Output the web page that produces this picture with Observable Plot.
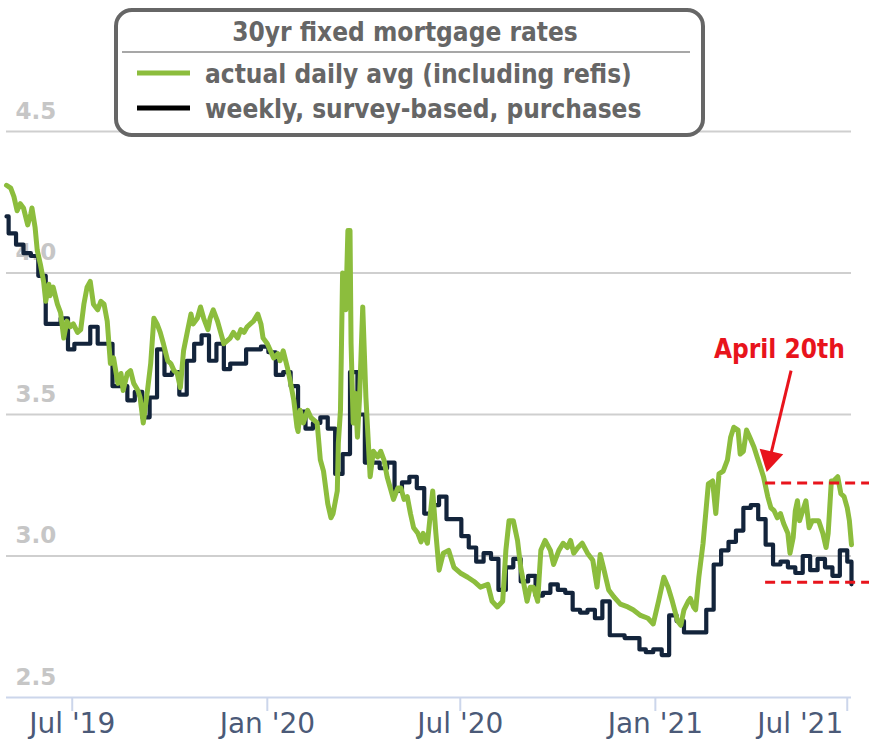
<!DOCTYPE html>
<html><head><meta charset="utf-8">
<script src="https://cdn.jsdelivr.net/npm/d3@7"></script>
<script src="https://cdn.jsdelivr.net/npm/@observablehq/plot@0.6"></script>
<style>
body{margin:0;background:#fff;}
#wrap{position:relative;width:869px;height:748px;overflow:hidden;}
#legend{position:absolute;left:0;top:0;}
.cond{font-family:'DejaVu Sans Condensed','DejaVu Sans',sans-serif;font-stretch:condensed;font-weight:bold;}
</style></head><body><div id="wrap"></div>
<script>
// ---- data ----
const greenDates = ["2019-04-30","2019-05-04","2019-05-07","2019-05-10","2019-05-13","2019-05-16","2019-05-20","2019-05-23","2019-05-24","2019-05-27","2019-05-29","2019-06-01","2019-06-04","2019-06-06","2019-06-09","2019-06-10","2019-06-13","2019-06-17","2019-06-20","2019-06-23","2019-06-26","2019-06-29","2019-07-02","2019-07-06","2019-07-09","2019-07-12","2019-07-15","2019-07-18","2019-07-21","2019-07-25","2019-07-28","2019-07-31","2019-08-03","2019-08-06","2019-08-09","2019-08-13","2019-08-16","2019-08-18","2019-08-22","2019-08-25","2019-08-28","2019-09-01","2019-09-03","2019-09-06","2019-09-10","2019-09-13","2019-09-16","2019-09-19","2019-09-22","2019-09-25","2019-09-29","2019-10-02","2019-10-05","2019-10-08","2019-10-11","2019-10-14","2019-10-18","2019-10-21","2019-10-23","2019-10-27","2019-10-30","2019-11-02","2019-11-06","2019-11-08","2019-11-11","2019-11-15","2019-11-18","2019-11-21","2019-11-24","2019-11-27","2019-11-30","2019-12-04","2019-12-07","2019-12-10","2019-12-13","2019-12-16","2019-12-19","2019-12-23","2019-12-26","2019-12-28","2020-01-01","2020-01-04","2020-01-07","2020-01-11","2020-01-13","2020-01-16","2020-01-20","2020-01-23","2020-01-26","2020-01-29","2020-01-30","2020-02-01","2020-02-04","2020-02-08","2020-02-11","2020-02-14","2020-02-17","2020-02-20","2020-02-23","2020-02-27","2020-03-01","2020-03-03","2020-03-07","2020-03-08","2020-03-10","2020-03-12","2020-03-15","2020-03-17","2020-03-19","2020-03-20","2020-03-22","2020-03-24","2020-03-26","2020-03-28","2020-03-31","2020-04-03","2020-04-05","2020-04-07","2020-04-10","2020-04-14","2020-04-17","2020-04-20","2020-04-23","2020-04-26","2020-04-29","2020-05-03","2020-05-06","2020-05-09","2020-05-12","2020-05-15","2020-05-18","2020-05-22","2020-05-25","2020-05-27","2020-05-31","2020-06-05","2020-06-08","2020-06-11","2020-06-15","2020-06-20","2020-06-25","2020-07-01","2020-07-08","2020-07-14","2020-07-20","2020-07-27","2020-07-31","2020-08-05","2020-08-10","2020-08-13","2020-08-16","2020-08-20","2020-08-24","2020-08-27","2020-08-30","2020-09-02","2020-09-05","2020-09-08","2020-09-12","2020-09-15","2020-09-19","2020-09-24","2020-09-27","2020-10-02","2020-10-06","2020-10-10","2020-10-13","2020-10-16","2020-10-20","2020-10-24","2020-10-29","2020-11-03","2020-11-07","2020-11-10","2020-11-13","2020-11-18","2020-11-23","2020-11-29","2020-12-06","2020-12-11","2020-12-18","2020-12-25","2020-12-30","2021-01-04","2021-01-09","2021-01-13","2021-01-17","2021-01-22","2021-01-25","2021-01-28","2021-02-01","2021-02-03","2021-02-06","2021-02-08","2021-02-11","2021-02-15","2021-02-20","2021-02-24","2021-02-27","2021-03-02","2021-03-06","2021-03-10","2021-03-13","2021-03-16","2021-03-20","2021-03-22","2021-03-25","2021-03-28","2021-03-31","2021-04-04","2021-04-07","2021-04-10","2021-04-13","2021-04-17","2021-04-20","2021-04-23","2021-04-26","2021-04-29","2021-05-02","2021-05-06","2021-05-08","2021-05-11","2021-05-13","2021-05-15","2021-05-17","2021-05-20","2021-05-23","2021-05-26","2021-05-29","2021-06-01","2021-06-04","2021-06-08","2021-06-11","2021-06-13","2021-06-16","2021-06-18","2021-06-22","2021-06-25","2021-06-28","2021-07-01","2021-07-03","2021-07-05"];
const greenRates = [4.31,4.30,4.27,4.22,4.245,4.23,4.17,4.21,4.23,4.16,4.08,4.03,3.97,3.90,3.96,3.92,3.95,3.89,3.86,3.77,3.83,3.81,3.82,3.79,3.80,3.89,3.95,3.97,3.89,3.87,3.90,3.89,3.83,3.68,3.70,3.61,3.645,3.585,3.645,3.655,3.61,3.585,3.56,3.47,3.585,3.68,3.84,3.82,3.79,3.75,3.69,3.68,3.655,3.645,3.595,3.725,3.80,3.855,3.82,3.84,3.88,3.84,3.80,3.84,3.87,3.83,3.79,3.75,3.76,3.77,3.79,3.77,3.80,3.79,3.81,3.82,3.83,3.855,3.82,3.77,3.75,3.725,3.70,3.715,3.69,3.725,3.665,3.61,3.55,3.455,3.44,3.515,3.47,3.515,3.49,3.48,3.47,3.34,3.30,3.185,3.135,3.15,3.23,3.40,3.515,4.00,3.87,4.15,4.15,3.75,3.47,3.575,3.42,3.56,3.88,3.56,3.42,3.28,3.37,3.35,3.37,3.34,3.28,3.24,3.20,3.24,3.24,3.20,3.21,3.15,3.10,3.08,3.05,3.08,3.045,3.23,3.08,2.95,3.01,3.02,2.96,2.94,2.925,2.91,2.89,2.90,2.84,2.82,2.84,3.02,3.125,3.125,3.055,2.96,2.90,2.84,2.89,2.89,2.84,3.02,3.055,3.02,2.97,3.02,3.045,3.03,3.055,3.01,3.03,3.045,3.01,2.985,2.89,3.005,2.96,2.88,2.855,2.83,2.82,2.81,2.79,2.78,2.76,2.84,2.925,2.89,2.84,2.77,2.755,2.81,2.84,2.85,2.82,2.81,2.925,3.045,3.255,3.265,3.15,3.29,3.30,3.34,3.42,3.455,3.445,3.36,3.37,3.445,3.42,3.385,3.35,3.315,3.28,3.21,3.17,3.16,3.135,3.15,3.115,3.08,3.01,3.065,3.16,3.195,3.125,3.16,3.195,3.10,3.125,3.125,3.125,3.08,3.03,3.08,3.265,3.265,3.28,3.22,3.21,3.17,3.125,3.04];

const weeklyDates = ["2019-04-30","2019-05-02","2019-05-09","2019-05-16","2019-05-23","2019-05-30","2019-06-06","2019-06-13","2019-06-20","2019-06-27","2019-07-03","2019-07-11","2019-07-18","2019-07-25","2019-08-01","2019-08-08","2019-08-15","2019-08-22","2019-08-29","2019-09-05","2019-09-12","2019-09-19","2019-09-26","2019-10-03","2019-10-10","2019-10-17","2019-10-24","2019-10-31","2019-11-07","2019-11-14","2019-11-21","2019-11-27","2019-12-05","2019-12-12","2019-12-19","2019-12-26","2020-01-02","2020-01-09","2020-01-16","2020-01-23","2020-01-30","2020-02-06","2020-02-13","2020-02-20","2020-02-27","2020-03-05","2020-03-12","2020-03-19","2020-03-26","2020-04-02","2020-04-09","2020-04-16","2020-04-23","2020-04-30","2020-05-07","2020-05-14","2020-05-21","2020-05-28","2020-06-04","2020-06-11","2020-06-18","2020-06-25","2020-07-02","2020-07-09","2020-07-16","2020-07-23","2020-07-30","2020-08-06","2020-08-13","2020-08-20","2020-08-27","2020-09-03","2020-09-10","2020-09-17","2020-09-24","2020-10-01","2020-10-08","2020-10-15","2020-10-22","2020-10-29","2020-11-05","2020-11-12","2020-11-19","2020-11-25","2020-12-03","2020-12-10","2020-12-17","2020-12-23","2020-12-30","2021-01-07","2021-01-14","2021-01-21","2021-01-28","2021-02-04","2021-02-11","2021-02-18","2021-02-25","2021-03-04","2021-03-11","2021-03-18","2021-03-25","2021-04-01","2021-04-08","2021-04-15","2021-04-22","2021-04-29","2021-05-06","2021-05-13","2021-05-20","2021-05-27","2021-06-03","2021-06-10","2021-06-17","2021-06-24","2021-07-01","2021-07-05"];
const weeklyRates = [4.20,4.14,4.10,4.07,4.06,3.99,3.82,3.82,3.84,3.73,3.75,3.75,3.81,3.75,3.75,3.60,3.60,3.55,3.58,3.49,3.56,3.73,3.64,3.65,3.57,3.69,3.75,3.78,3.69,3.75,3.66,3.68,3.68,3.73,3.73,3.74,3.72,3.64,3.65,3.60,3.51,3.45,3.47,3.49,3.45,3.29,3.36,3.65,3.50,3.33,3.33,3.31,3.33,3.23,3.26,3.28,3.24,3.15,3.18,3.21,3.13,3.13,3.07,3.03,2.98,3.01,2.99,2.88,2.96,2.99,2.91,2.93,2.86,2.87,2.90,2.88,2.87,2.81,2.80,2.81,2.78,2.84,2.72,2.72,2.71,2.71,2.67,2.66,2.67,2.65,2.79,2.77,2.73,2.73,2.73,2.81,2.97,3.02,3.05,3.09,3.17,3.18,3.13,3.04,2.97,2.98,2.96,2.94,3.00,2.95,2.99,2.96,2.93,3.02,2.98,2.90];

const xDomain = ["2019-04-30","2021-07-05"];
const xTickDates = ["2019-07-01","2020-01-01","2020-07-01","2021-01-01","2021-07-01"];
const yTickValues = [2.5,3.0,3.5,4.0,4.5];
const gridValues = [3.0,3.5,4.0,4.5];

const legendTitle = "30yr fixed mortgage rates";
const seriesNames = ["actual daily avg (including refis)","weekly, survey-based, purchases"];
const seriesColors = ["#8cbd3d","#13243b"];

// annotation
const annoLabel = "April 20th";
const annoLabelPos = {date:"2021-04-28", rate:3.73};
const arrowFrom = {date:"2021-05-09", rate:3.655};
const arrowTo = {date:"2021-04-19", rate:3.345};
const bandLevels = [3.258, 2.907];
const bandStart = "2021-04-15";
const bandEnd = "2021-07-22";

// ---- build ----
const P = s => new Date(s + "T00:00:00Z");
const green = greenDates.map((d,i)=>({date:P(d), rate:greenRates[i]}));
const weekly = weeklyDates.map((d,i)=>({date:P(d), rate:weeklyRates[i]}));
const ticks = xTickDates.map(P);
const red = "#e8141c";
const start = P(xDomain[0]);
const fmt = d3.utcFormat("%b '%y");
const axisLabel = {x: d => d, text: d => fmt(d), frameAnchor: "bottom", dy: 35, fill: "#4b5a78", fontSize: 28};

const chart = Plot.plot({
  width: 869, height: 748,
  marginLeft: 6, marginRight: 18, marginTop: 131, marginBottom: 51,
  style: {fontFamily: "DejaVu Sans, sans-serif", background: "white", color: "#4b5a78", overflow: "visible"},
  x: {type: "utc", domain: xDomain.map(P)},
  y: {domain: [2.5, 4.5], axis: null},
  marks: [
    Plot.ruleY(gridValues, {stroke: "#cfcfcf", strokeWidth: 2}),
    Plot.text(yTickValues, {x: () => start, y: d => d, text: d => d.toFixed(1), dx: 9, dy: -20,
      textAnchor: "start", fill: "#c6c6c6", fontWeight: "bold", fontSize: 23}),
    Plot.ruleY([2.5], {stroke: "#ccd6eb", strokeWidth: 2}),
    Plot.axisX({ticks, tickFormat: () => "", tickSize: 14, tickPadding: 0, stroke: "#ccd6eb", strokeWidth: 2}),
    Plot.text(ticks.slice(0, -1), axisLabel),
    Plot.text(ticks.slice(-1), {...axisLabel, textAnchor: "end", dx: -4}),
    Plot.line(weekly, {x: "date", y: "rate", curve: "step-after", stroke: seriesColors[1], strokeWidth: 4.2}),
    Plot.line(green, {x: "date", y: "rate", stroke: seriesColors[0], strokeWidth: 5, strokeLinejoin: "round"}),
    Plot.ruleY(bandLevels, {x1: P(bandStart), x2: P(bandEnd), stroke: red, strokeWidth: 3, strokeDasharray: "10,6"}),
    Plot.link([0], {x1: P(arrowFrom.date), y1: arrowFrom.rate, x2: P(arrowTo.date), y2: arrowTo.rate, stroke: red, strokeWidth: 3}),
    Plot.dot([0], {x: P(arrowTo.date), y: arrowTo.rate, symbol: "triangle", r: 9, fill: red, stroke: "none", rotate: 193}),
    Plot.text([annoLabel], {x: P(annoLabelPos.date), y: annoLabelPos.rate, text: d => d, fill: red,
      fontSize: 26, fontWeight: "bold", fontFamily: "'DejaVu Sans Condensed','DejaVu Sans',sans-serif"})
  ]
});

const wrap = document.getElementById("wrap");
wrap.appendChild(chart);

const ns = "http://www.w3.org/2000/svg";
const leg = document.createElementNS(ns, "svg");
leg.setAttribute("id", "legend");
leg.setAttribute("width", 869);
leg.setAttribute("height", 150);
leg.innerHTML = `
  <rect x="116" y="10" width="587" height="125" rx="16" ry="16" fill="white" stroke="#666" stroke-width="4"/>
  <text class="cond" x="405" y="41" text-anchor="middle" font-size="26" fill="#666">${legendTitle}</text>
  <line x1="122" x2="690" y1="52" y2="52" stroke="#8a8a8a" stroke-width="1.5"/>
  <line x1="137" x2="190" y1="73" y2="73" stroke="${seriesColors[0]}" stroke-width="5"/>
  <text class="cond" x="205" y="83" font-size="26" fill="#666">${seriesNames[0]}</text>
  <line x1="137" x2="190" y1="108" y2="108" stroke="#000" stroke-width="5"/>
  <text class="cond" x="205" y="118" font-size="26" fill="#666">${seriesNames[1]}</text>`;
wrap.appendChild(leg);
</script></body></html>
